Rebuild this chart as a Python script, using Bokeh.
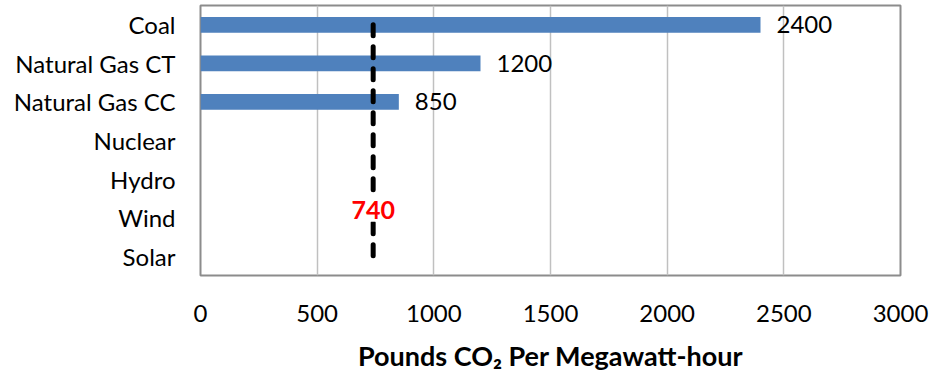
from bokeh.plotting import figure
from bokeh.models import ColumnDataSource, FactorRange, Range1d, FixedTicker
from bokeh.core.properties import value
from bokeh.embed import file_html
from bokeh.resources import INLINE

# Emission rates by generation technology
categories = ["Coal", "Natural Gas CT", "Natural Gas CC", "Nuclear", "Hydro", "Wind", "Solar"]
emissions = [2400, 1200, 850, 0, 0, 0, 0]
threshold = 740
x_ticks = [0, 500, 1000, 1500, 2000, 2500, 3000]

FONT = "Lato"
BAR_COLOR = "#4F81BD"

p = figure(
    width=946, height=374,
    y_range=FactorRange(factors=list(reversed(categories))),
    x_range=Range1d(0, 3000),
    output_backend="svg", toolbar_location=None,
    min_border_left=200, min_border_right=46,
    min_border_top=5, min_border_bottom=95,
)

src = ColumnDataSource(dict(cat=categories, val=emissions))
p.hbar(y="cat", right="val", left=0, height=0.41, source=src,
       fill_color=BAR_COLOR, line_color=None)

# Value labels next to the non-zero bars
lab_cats = [c for c, v in zip(categories, emissions) if v > 0]
lab_vals = [v for v in emissions if v > 0]
lab_src = ColumnDataSource(dict(cat=lab_cats, val=lab_vals, txt=[str(v) for v in lab_vals]))
p.text(x="val", y="cat", text="txt", source=lab_src, x_offset=16,
       text_baseline="middle", text_align="left",
       text_font=value(FONT), text_font_size="24px", text_color="black")

# Dashed threshold line spanning all categories
p.line(x=[threshold, threshold], y=[categories[0], categories[-1]],
       line_color="black", line_width=5, line_dash="11 11", line_cap="round")

p.text(x=[threshold], y=["Wind"], text=[str(threshold)], y_offset=-8,
       text_align="center", text_baseline="middle",
       text_font=value(FONT), text_font_size="25px", text_font_style="bold",
       text_color="red", background_fill_color="white",
       padding=3)

# Axes
p.xaxis.ticker = FixedTicker(ticks=x_ticks)
p.xaxis.axis_label = "Pounds CO\u2082 Per Megawatt-hour"
p.xaxis.axis_label_text_font = FONT
p.xaxis.axis_label_text_font_size = "27px"
p.xaxis.axis_label_text_font_style = "bold"
p.xaxis.axis_label_text_color = "black"
p.xaxis.axis_label_standoff = 14
p.xaxis.major_label_text_font = FONT
p.xaxis.major_label_text_font_size = "24px"
p.xaxis.major_label_text_color = "black"
p.xaxis.major_label_standoff = 23
p.xaxis.major_tick_line_color = None
p.xaxis.minor_tick_line_color = None
p.xaxis.axis_line_color = None

p.yaxis.major_label_text_font = FONT
p.yaxis.major_label_text_font_size = "24px"
p.yaxis.major_label_text_color = "black"
p.yaxis.major_label_standoff = 19
p.yaxis.major_tick_line_color = None
p.yaxis.axis_line_color = None

p.xgrid.grid_line_color = "#C0C0C0"
p.xgrid.grid_line_width = 1.5
p.ygrid.grid_line_color = None

p.outline_line_color = "#8C8C8C"
p.outline_line_width = 2
p.background_fill_color = "white"
p.border_fill_color = "white"

open("out.html", "w").write(file_html(p, INLINE))
